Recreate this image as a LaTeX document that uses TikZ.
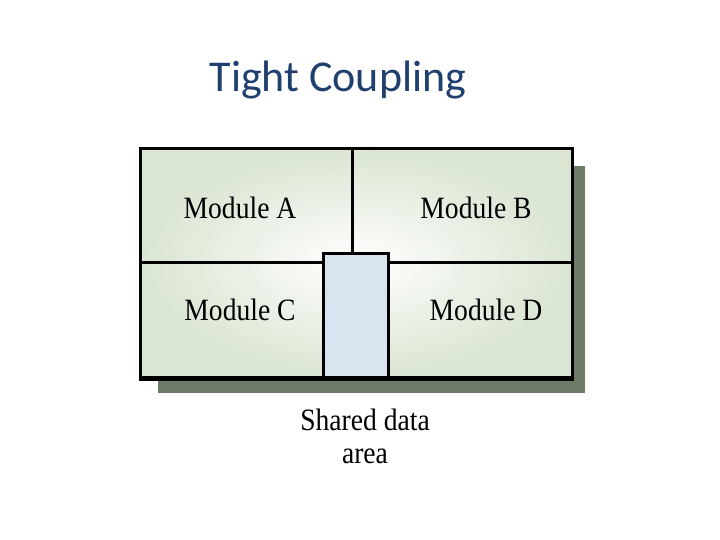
\documentclass[tikz,border=0pt]{standalone}
\usepackage{fontspec}
\setmainfont{Liberation Serif}
\newfontfamily\titlefont{Carlito}
\usetikzlibrary{positioning}
\definecolor{titleblue}{HTML}{1F3F6E}
\definecolor{shadowgreen}{HTML}{6E7B69}
\definecolor{paleGreen}{HTML}{DAE5D2}
\definecolor{sharedblue}{HTML}{D8E5F1}
\tikzset{
  modlabel/.style={font=\fontsize{31}{31}\selectfont, inner sep=0pt},
  border/.style={draw=black, line width=3pt},
}
\newcommand{\cond}[1]{\scalebox{0.89}[1]{#1}}
\begin{document}
\begin{tikzpicture}[x=1pt,y=-1pt]
\useasboundingbox (0,0) rectangle (720,540);
% title
\node[font=\titlefont\fontsize{44}{44}\selectfont, text=titleblue, inner sep=0pt] (title) at (338,80) {Tight Coupling};
% shadow
\fill[shadowgreen] (158,166) rectangle (585,393);
% main box
\node[border, shading=radial, inner color=white, outer color=paleGreen, minimum width=432pt, minimum height=229pt, inner sep=0pt, anchor=north west] (outer) at (139,147) {};
% dividers
\coordinate (vtop) at (352,147);
\coordinate (vbot) at (352,252);
\coordinate (hl) at (139,262);
\coordinate (hr) at (571,262);
\draw[line width=3pt] (vtop) -- (vbot);
\draw[line width=3pt] (hl) -- (hr);
% shared data area
\node[border, fill=sharedblue, minimum width=65pt, minimum height=124pt, inner sep=0pt, anchor=north west] (shared) at (322,252) {};
\draw[line width=3pt] (outer.south west) -- (outer.south east);
% labels
\node[modlabel] (ma) at (240,208) {\cond{Module A}};
\node[modlabel] (mb) at (476,208) {\cond{Module B}};
\node[modlabel] (mc) at (240,310) {\cond{Module C}};
\node[modlabel] (md) at (486,310) {\cond{Module D}};
\node[modlabel, align=center] (sl) at (365,436) {\cond{Shared data}\\[2pt]\cond{area}};
\end{tikzpicture}
\end{document}
